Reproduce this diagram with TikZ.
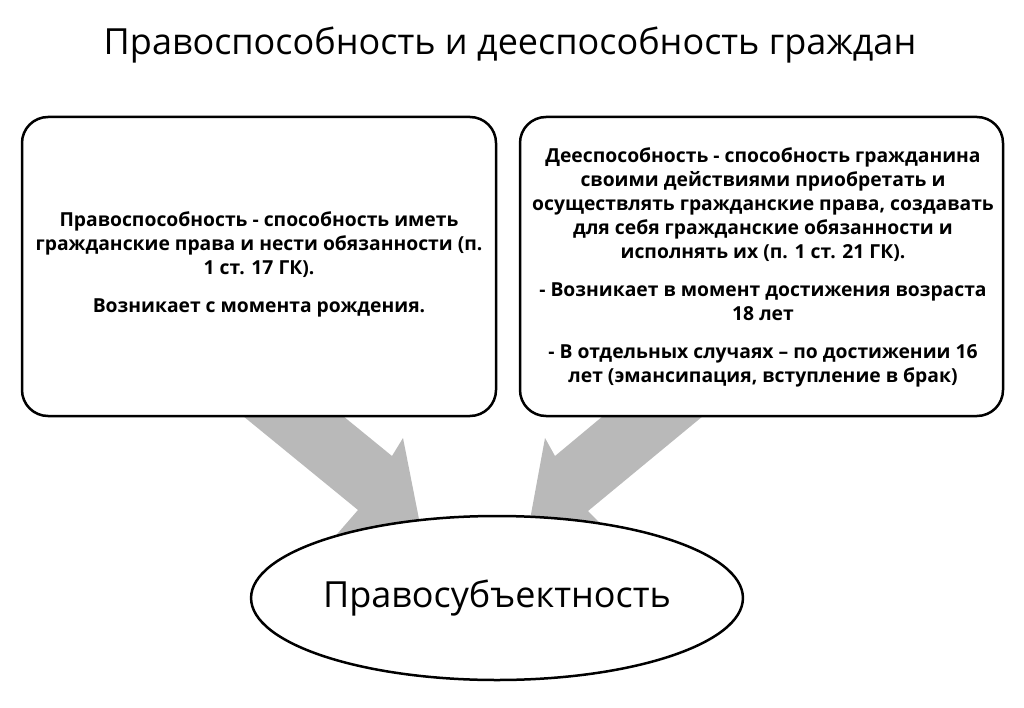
\documentclass[tikz,border=0pt]{standalone}
\usepackage{fontspec}
\setmainfont{Open Sans}
\usetikzlibrary{shapes.geometric}

\begin{document}
\begin{tikzpicture}[x=1pt, y=-1pt, b/.style={draw, line width=2.5pt, rounded corners=26pt, fill=white}, t/.style={align=center, font=\fontsize{19.3}{24}\selectfont\bfseries}, a/.style={fill=gray!55}]
		\useasboundingbox (0,0) rectangle (1024,708);
		\node[font=\fontsize{36}{40}\selectfont] (T) at (510,45) {Правоспособность и дееспособность граждан};

		% arrows behind
		\path[a] (243,416) -- (343,416) -- (392,456) -- (403,438) -- (432,585) -- (318,556) -- (358,510) -- cycle;
		\path[a] (703,416) -- (603,416) -- (555,456) -- (545,438) -- (518,585) -- (632,556) -- (588,511) -- cycle;

		\node[b, minimum width=474pt, minimum height=299pt] (L) at (259,266.5) {};
		\node[b, minimum width=483pt, minimum height=299pt] (R) at (761.5,266.5) {};
		\node[t] (Lt) at (259,264) {Правоспособность - способность иметь\\гражданские права и нести обязанности (п.\\1 ст. 17 ГК).\\[14pt]Возникает с момента рождения.};
		\node[t] (Rt) at (763,267) {Дееспособность - способность гражданина\\своими действиями приобретать и\\осуществлять гражданские права, создавать\\для себя гражданские обязанности и\\исполнять их (п. 1 ст. 21 ГК).\\[14pt]- Возникает в момент достижения возраста\\18 лет\\[14pt]- В отдельных случаях – по достижении 16\\лет (эмансипация, вступление в брак)};

		\node[ellipse, draw, line width=2.5pt, fill=white, inner sep=0pt, minimum width=446pt, minimum height=164pt, font=\fontsize{36}{40}\selectfont] (P) at (497,598) {Правосубъектность};
	\end{tikzpicture}
\end{document}
